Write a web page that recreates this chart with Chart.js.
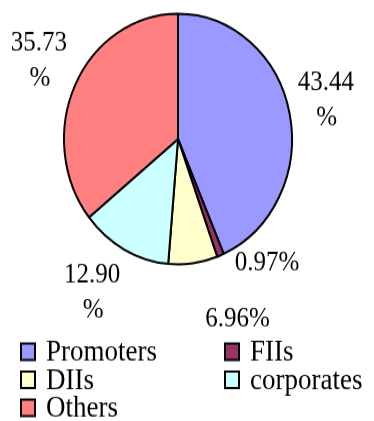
<!DOCTYPE html>
<html>
<head>
<meta charset="utf-8">
<script src="https://cdn.jsdelivr.net/npm/chart.js@4.4.0/dist/chart.umd.min.js"></script>
<style>
  html, body { margin: 0; padding: 0; background: #fff; overflow: hidden; }
</style>
</head>
<body>
<!-- drawn at 374x383 and stretched to 421 tall, like the original picture -->
<canvas id="share-chart" width="374" height="383" style="display:block;width:374px;height:421px"></canvas>
<script>
const holders = ['Promoters', 'FIIs', 'DIIs', 'corporates', 'Others']
const shares = [43.44, 0.97, 6.96, 12.90, 35.73]
const sliceColors = ['#9999FF', '#993366', '#FFFFCC', '#CCFFFF', '#FF8080']

// label placement: split "%" onto its own line, angle nudge (deg), distance as part of radius
const labelWrap = [true, false, false, true, true]
const labelNudge = [-1.7, -16.4, -12.4, 3.4, 1.3]
const labelDist = [1.333, 1.26, 1.53, 1.44, 1.37]

const serif = '"Liberation Serif", "Times New Roman", serif'

const pieLabels = {
  id: 'pieLabels',
  afterDatasetsDraw(chart) {
    const ctx = chart.ctx
    const meta = chart.getDatasetMeta(0)
    ctx.save()
    ctx.font = '25px ' + serif
    ctx.fillStyle = '#000'
    ctx.textAlign = 'center'
    ctx.textBaseline = 'middle'
    meta.data.forEach((arc, i) => {
      const { x, y, startAngle, endAngle, outerRadius } = arc.getProps(['x', 'y', 'startAngle', 'endAngle', 'outerRadius'], true)
      const mid = (startAngle + endAngle) / 2 + labelNudge[i] * Math.PI / 180
      const d = outerRadius * labelDist[i]
      const lx = x + Math.cos(mid) * d
      const ly = y + Math.sin(mid) * d
      const txt = shares[i].toFixed(2)
      if (labelWrap[i]) {
        ctx.fillText(txt, lx, ly - 16)
        ctx.fillText('%', lx + 1, ly + 16)
      } else {
        ctx.fillText(txt + '%', lx, ly)
      }
    })
    ctx.restore()
  }
}

// two column legend under the pie
const gridLegend = {
  id: 'gridLegend',
  afterDraw(chart) {
    const ctx = chart.ctx
    const colX = [21, 225]
    const rowY = [320, 345.5, 371]
    ctx.save()
    ctx.font = '27px ' + serif
    ctx.textAlign = 'left'
    ctx.textBaseline = 'alphabetic'
    chart.data.labels.forEach((name, i) => {
      const bx = colX[i % 2]
      const by = rowY[Math.floor(i / 2)]
      ctx.fillStyle = sliceColors[i]
      ctx.fillRect(bx, by - 7.5, 14, 15)
      ctx.lineWidth = 2
      ctx.strokeStyle = '#000'
      ctx.strokeRect(bx, by - 7.5, 14, 15)
      ctx.fillStyle = '#000'
      ctx.fillText(name, bx + 25, by + 8)
    })
    ctx.restore()
  }
}

const ctx = document.getElementById('share-chart').getContext('2d')
const chart = new Chart(ctx, {
  type: 'pie',
  data: {
    labels: holders,
    datasets: [
      {
        data: shares,
        backgroundColor: sliceColors,
        borderColor: '#000',
        borderWidth: 2,
      },
    ],
  },
  options: {
    responsive: false,
    animation: false,
    devicePixelRatio: 1,
    layout: {
      padding: { left: 63, right: 81, top: 11.5, bottom: 141.5 },
    },
    plugins: {
      legend: { display: false },
      tooltip: { enabled: false },
    },
  },
  plugins: [pieLabels, gridLegend],
})
</script>
</body>
</html>
